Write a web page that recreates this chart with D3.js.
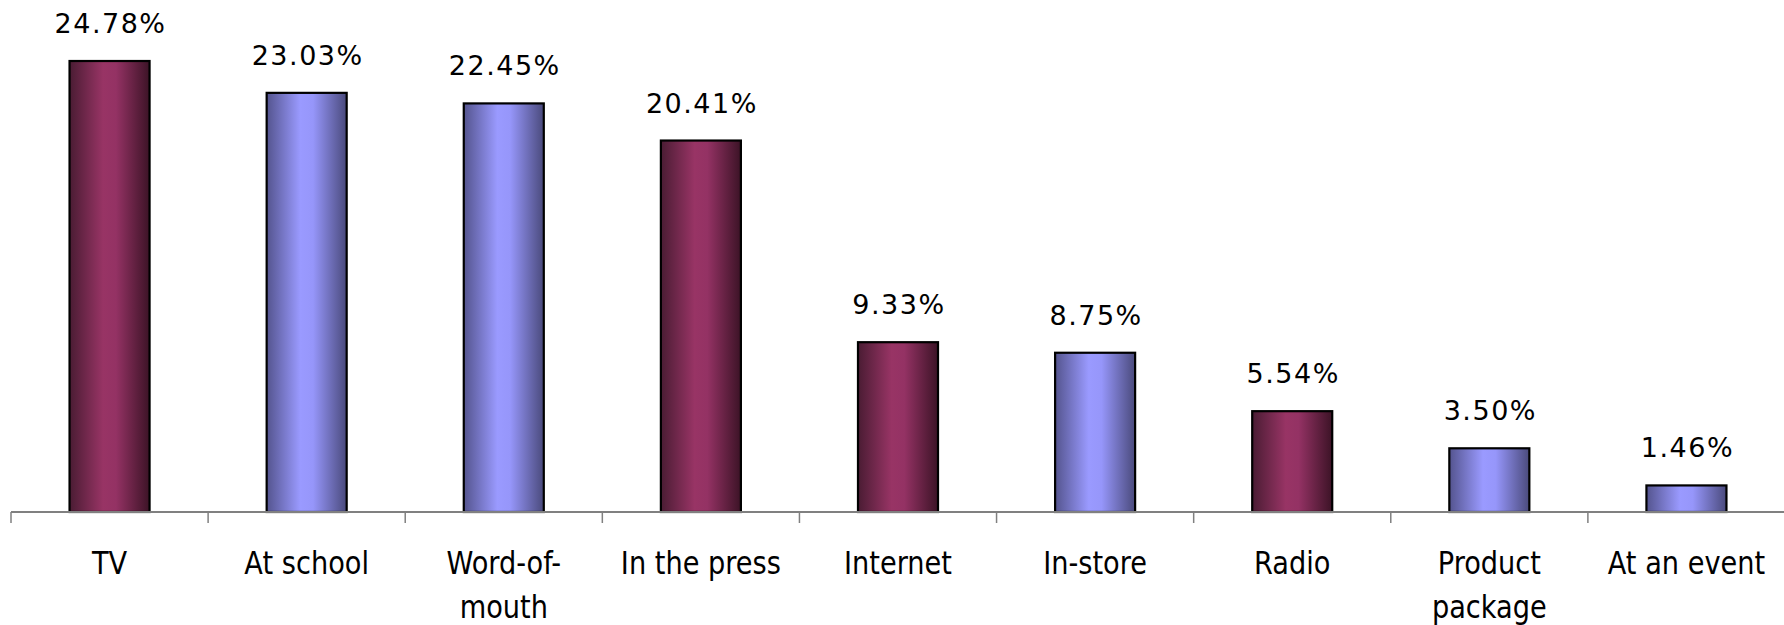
<!DOCTYPE html>
<html>
<head>
<meta charset="utf-8">
<script src="https://cdn.jsdelivr.net/npm/d3@7/dist/d3.min.js"></script>
<style>
  html, body { margin: 0; padding: 0; background: #ffffff; }
  svg { display: block; }
</style>
</head>
<body>
<script>
// Where respondents heard about it (% of mentions)
const categories = ["TV", "At school", "Word-of-mouth", "In the press", "Internet",
                    "In-store", "Radio", "Product package", "At an event"];
const values = [24.78, 23.03, 22.45, 20.41, 9.33, 8.75, 5.54, 3.50, 1.46];
const tickLabels = [["TV"], ["At school"], ["Word-of-", "mouth"], ["In the press"], ["Internet"],
                    ["In-store"], ["Radio"], ["Product", "package"], ["At an event"]];
const barSeries = ["maroon", "blue", "blue", "maroon", "maroon", "blue", "maroon", "blue", "blue"];

const W = 1784, H = 625;
const svg = d3.select("body").append("svg").attr("width", W).attr("height", H);

// Horizontal cylinder-like shading for the two bar colours
const defs = svg.append("defs");
const gradients = {
  maroon: [["0%", "#4a1c33"], ["42%", "#983465"], ["58%", "#943264"], ["100%", "#3c1326"]],
  blue:   [["0%", "#54548e"], ["42%", "#9a9aff"], ["58%", "#9696fa"], ["100%", "#4a4a7c"]]
};
Object.entries(gradients).forEach(([name, stops]) => {
  const g = defs.append("linearGradient").attr("id", "grad-" + name)
    .attr("x1", "0%").attr("x2", "100%").attr("y1", "0%").attr("y2", "0%");
  stops.forEach(([o, c]) => g.append("stop").attr("offset", o).attr("stop-color", c));
});

const x = d3.scaleBand().domain(categories).range([11, 1785])
  .paddingInner(0.594).paddingOuter(0.297);
const y = d3.scaleLinear().domain([0, 25]).range([512, 57]);

// Bars
svg.append("g").selectAll("rect").data(categories).join("rect")
  .attr("x", d => x(d))
  .attr("y", (d, i) => y(values[i]))
  .attr("width", x.bandwidth())
  .attr("height", (d, i) => y(0) - y(values[i]))
  .attr("fill", (d, i) => `url(#grad-${barSeries[i]})`)
  .attr("stroke", "#000")
  .attr("stroke-width", 2.2);

// Category axis: baseline plus boundary ticks between categories
const axis = svg.append("g");
axis.append("line")
  .attr("x1", x.range()[0]).attr("x2", x.range()[1])
  .attr("y1", y(0)).attr("y2", y(0))
  .attr("stroke", "#808080").attr("stroke-width", 2);
const half = x.step() * x.paddingInner() / 2;
axis.selectAll("line.tick").data(categories).join("line")
  .attr("class", "tick")
  .attr("x1", d => x(d) - half).attr("x2", d => x(d) - half)
  .attr("y1", y(0)).attr("y2", y(0) + 11)
  .attr("stroke", "#808080").attr("stroke-width", 1.5);

// Category labels (narrowed sans to keep the compact look)
const labels = axis.selectAll("text.cat").data(categories).join("text")
  .attr("class", "cat")
  .attr("transform", d => `translate(${x(d) + x.bandwidth() / 2},574) scale(0.85,1)`)
  .attr("text-anchor", "middle")
  .attr("font-family", "DejaVu Sans, sans-serif")
  .attr("font-size", 32)
  .attr("fill", "#000");
labels.each(function (d, i) {
  d3.select(this).selectAll("tspan").data(tickLabels[i]).join("tspan")
    .attr("x", 0).attr("dy", (t, j) => j === 0 ? 0 : 44)
    .text(t => t);
});

// Value labels above bars
svg.append("g").selectAll("text").data(categories).join("text")
  .attr("x", d => x(d) + x.bandwidth() / 2 + 1)
  .attr("y", (d, i) => y(values[i]) - 28)
  .attr("text-anchor", "middle")
  .attr("font-family", "DejaVu Sans, sans-serif")
  .attr("font-size", 27)
  .attr("letter-spacing", 1.5)
  .attr("fill", "#000")
  .text((d, i) => values[i].toFixed(2) + "%");
</script>
</body>
</html>
